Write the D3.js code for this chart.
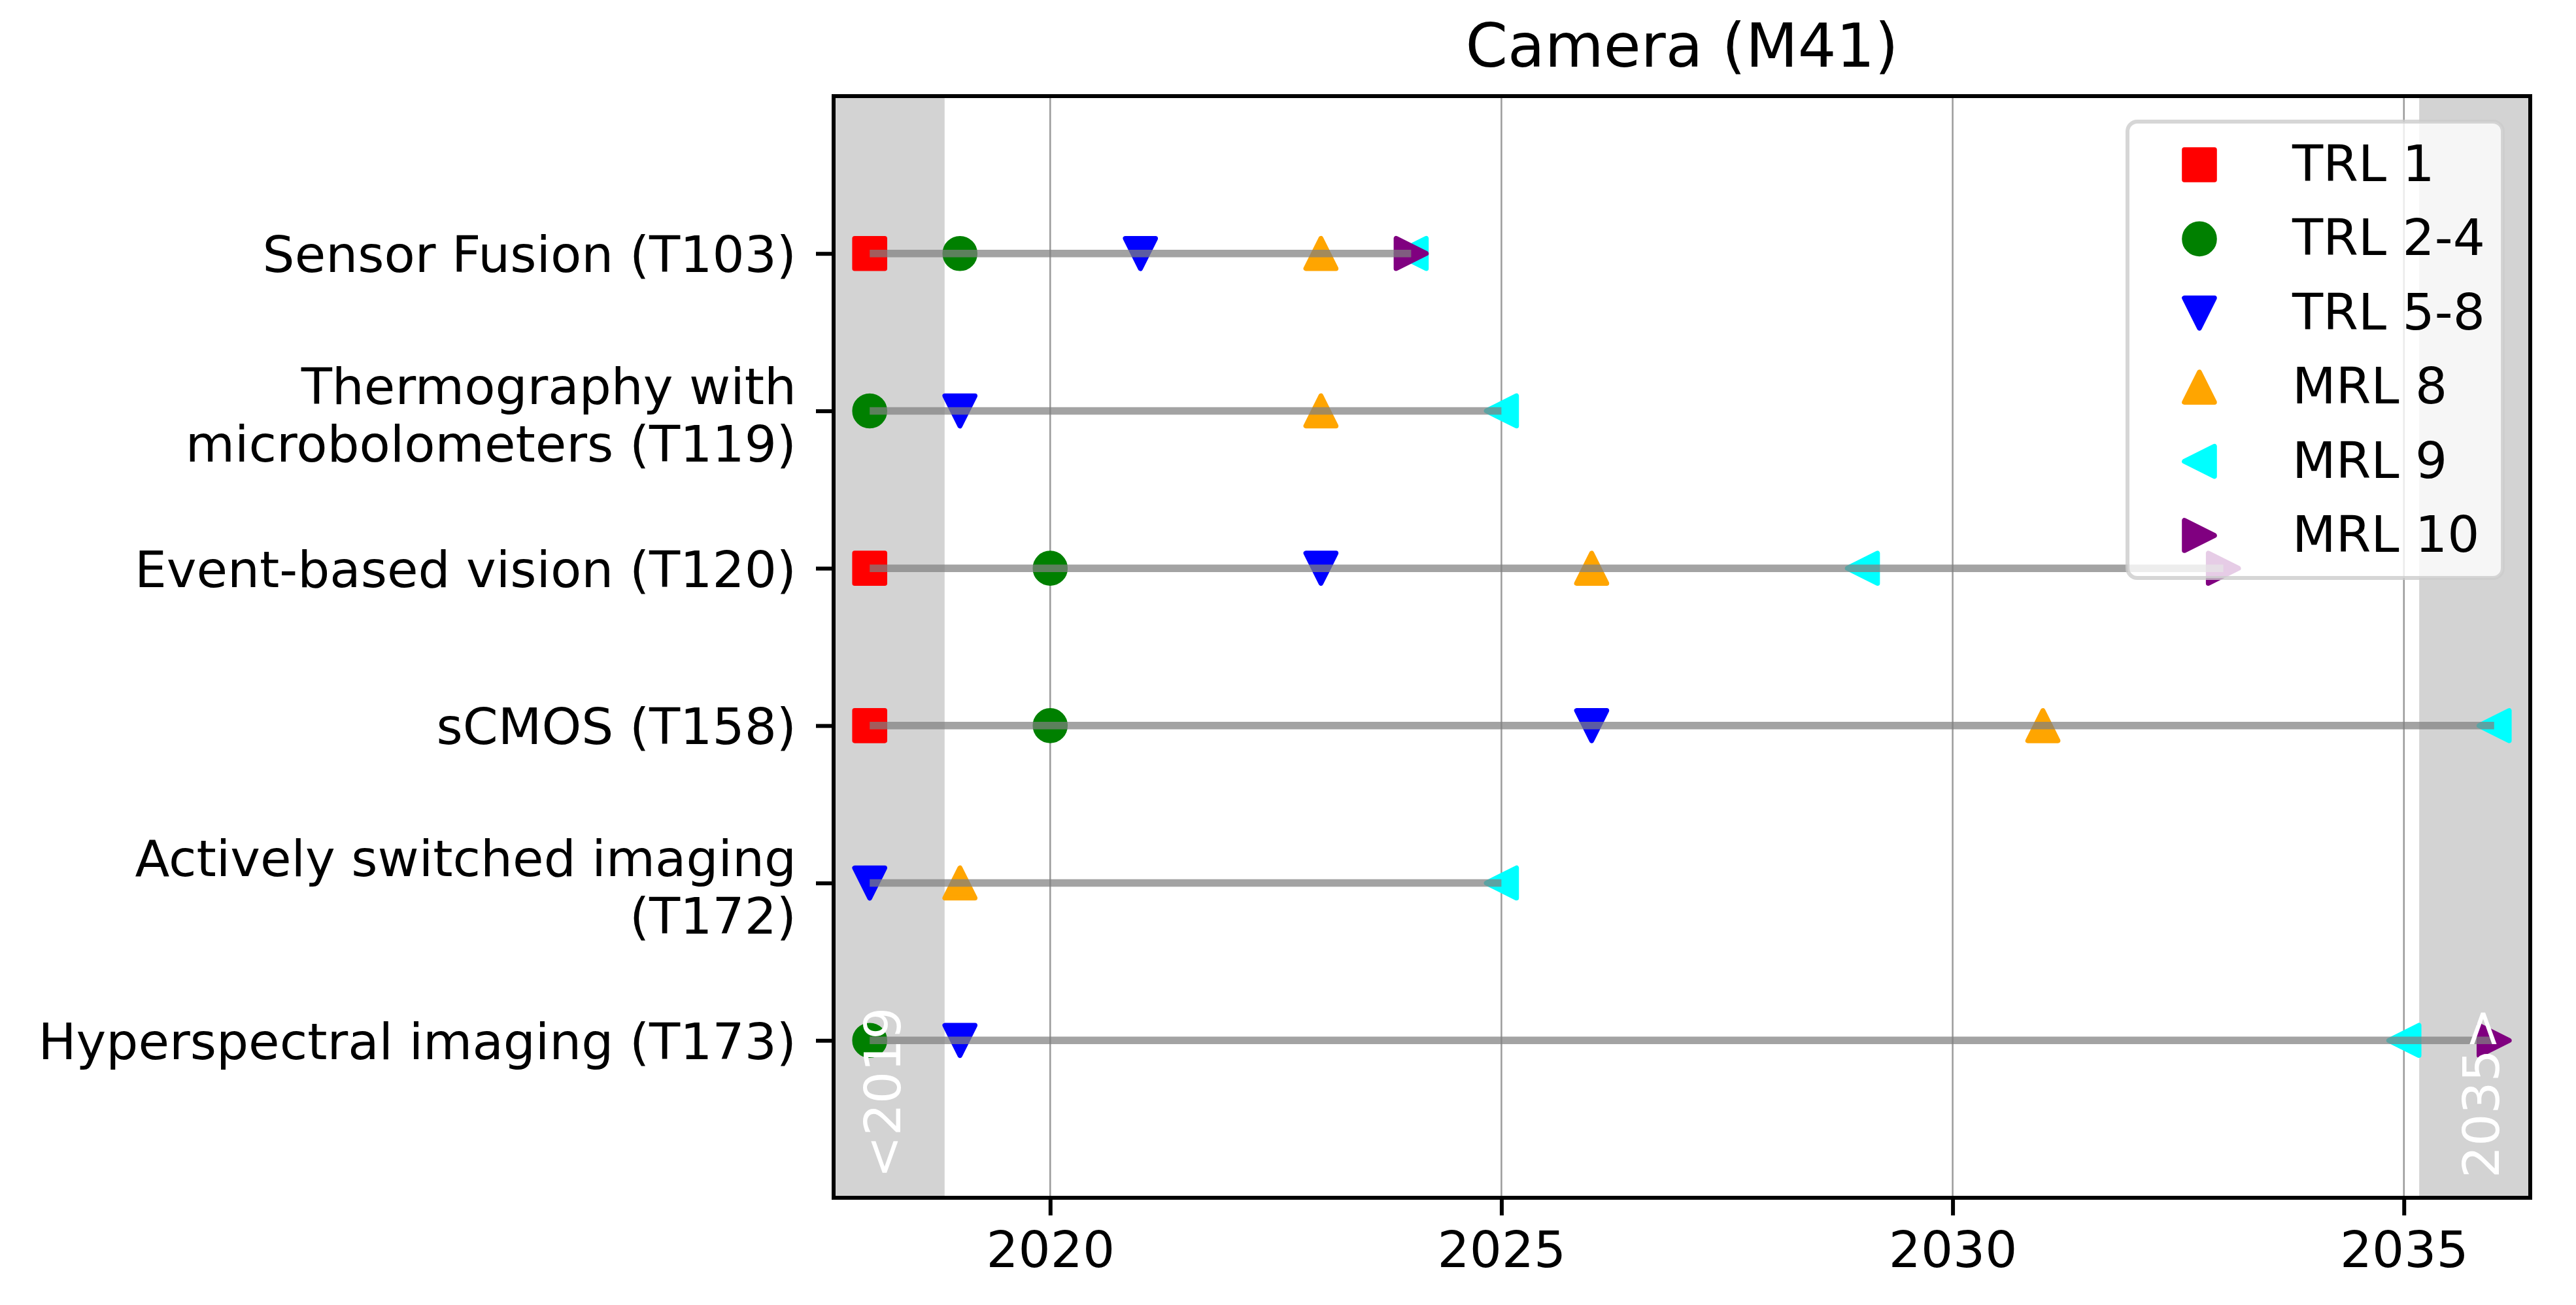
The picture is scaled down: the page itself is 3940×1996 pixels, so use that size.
<!DOCTYPE html>
<html>
<head>
<meta charset="utf-8">
<script src="https://cdn.jsdelivr.net/npm/d3@7"></script>
<style>
  body { margin: 0; background: #fff; }
  text { font-family: "DejaVu Sans", sans-serif; }
</style>
</head>
<body>
<div id="chart"></div>
<script>
// technologies (rows, top to bottom)
const technologies = [
    "Sensor Fusion (T103)",
    "Thermography with\nmicrobolometers (T119)",
    "Event-based vision (T120)",
    "sCMOS (T158)",
    "Actively switched imaging\n(T172)",
    "Hyperspectral imaging (T173)"
];

// readiness levels
const levels = ["TRL 1", "TRL 2-4", "TRL 5-8", "MRL 8", "MRL 9", "MRL 10"];
const levelColors = ["red", "green", "blue", "orange", "cyan", "purple"];
const levelShapes = ["square", "circle", "down", "up", "left", "right"];

// year reached per technology (null = not given), 2018 = <2019, 2036 = 2035>
const trl1  = [2018, null, 2018, 2018, null, null];
const trl24 = [2019, 2018, 2020, 2020, null, 2018];
const trl58 = [2021, 2019, 2023, 2026, 2018, 2019];
const mrl8  = [2023, 2023, 2026, 2031, 2019, null];
const mrl9  = [2024, 2025, 2029, 2036, 2025, 2035];
const mrl10 = [2024, null, 2033, null, null, 2036];

const xTicks = [2020, 2025, 2030, 2035];
const xDomain = [2017.6, 2036.4];
const yDomain = [-1, 6];
const bands = [[2017.6, 2018.83], [2035.17, 2036.4]];
const bandLabels = [{ text: "<2019", x: 2018.34 }, { text: "2035>", x: 2036.05 }];

function init() {
    const w = 3940, h = 1996;
    const left = 1275, right = 3870, top = 147, bottom = 1832;
    const ms = 46, mew = 7.6;
    const fs = 77.3;

    const series = [trl1, trl24, trl58, mrl8, mrl9, mrl10];

    const svg = d3.select("#chart")
        .append("svg")
        .attr("width", w)
        .attr("height", h)
        .style("background", "#fff");

    const xScale = d3.scaleLinear().domain(xDomain).range([left, right]);
    const yScale = d3.scaleLinear().domain(yDomain).range([top, bottom]);

    // shaded "out of range" bands
    svg.selectAll("rect.band")
        .data(bands)
        .enter()
        .append("rect")
        .attr("class", "band")
        .attr("x", d => xScale(d[0]))
        .attr("y", top)
        .attr("width", d => xScale(d[1]) - xScale(d[0]))
        .attr("height", bottom - top)
        .attr("fill", "#d3d3d3");

    // vertical grid
    svg.selectAll("line.grid")
        .data(xTicks)
        .enter()
        .append("line")
        .attr("class", "grid")
        .attr("x1", d => xScale(d))
        .attr("x2", d => xScale(d))
        .attr("y1", top)
        .attr("y2", bottom)
        .attr("stroke", "#9a9a9a")
        .attr("stroke-width", 2.5);

    function markerPath(shape) {
        const r = ms / 2;
        switch (shape) {
            case "square": return `M${-r},${-r}H${r}V${r}H${-r}Z`;
            case "circle": return `M${r},0A${r},${r} 0 1,1 ${-r},0A${r},${r} 0 1,1 ${r},0Z`;
            case "down": return `M0,${r}L${-r},${-r}L${r},${-r}Z`;
            case "up": return `M0,${-r}L${-r},${r}L${r},${r}Z`;
            case "left": return `M${-r},0L${r},${-r}L${r},${r}Z`;
            case "right": return `M${r},0L${-r},${-r}L${-r},${r}Z`;
        }
    }

    // markers, one level at a time
    series.forEach((vals, li) => {
        const pts = vals.map((v, i) => ({ year: v, row: i })).filter(d => d.year !== null);
        svg.append("g")
            .selectAll("path")
            .data(pts)
            .enter()
            .append("path")
            .attr("d", markerPath(levelShapes[li]))
            .attr("transform", d => `translate(${xScale(d.year)},${yScale(d.row)})`)
            .attr("fill", levelColors[li])
            .attr("stroke", levelColors[li])
            .attr("stroke-width", mew)
            .attr("stroke-linejoin", "round");
    });

    // span line for every technology
    const spans = technologies.map((t, i) => {
        const ys = series.map(s => s[i]).filter(v => v !== null);
        return { row: i, start: d3.min(ys), end: d3.max(ys) };
    });
    svg.selectAll("line.span")
        .data(spans)
        .enter()
        .append("line")
        .attr("class", "span")
        .attr("x1", d => xScale(d.start))
        .attr("x2", d => xScale(d.end))
        .attr("y1", d => yScale(d.row))
        .attr("y2", d => yScale(d.row))
        .attr("stroke", "gray")
        .attr("stroke-opacity", 0.72)
        .attr("stroke-width", 11.5);

    // band labels
    svg.selectAll("text.bandLabel")
        .data(bandLabels)
        .enter()
        .append("text")
        .attr("class", "bandLabel")
        .attr("transform", d => `translate(${xScale(d.x)},${bottom - 30}) rotate(-90)`)
        .attr("fill", "white")
        .attr("font-size", fs)
        .text(d => d.text);

    // axes
    const xAxis = d3.axisBottom(xScale)
        .tickValues(xTicks)
        .tickFormat(d3.format("d"))
        .tickSize(27)
        .tickPadding(24)
        .tickSizeOuter(0);
    const gx = svg.append("g")
        .attr("transform", `translate(0,${bottom})`)
        .call(xAxis);
    gx.select(".domain").remove();
    gx.selectAll(".tick line").attr("stroke", "#000").attr("stroke-width", 6);
    gx.selectAll(".tick text")
        .attr("font-size", fs)
        .attr("font-family", "DejaVu Sans")
        .attr("fill", "#000");

    const yAxis = d3.axisLeft(yScale)
        .tickValues(d3.range(technologies.length))
        .tickFormat(i => technologies[i])
        .tickSize(27)
        .tickPadding(30)
        .tickSizeOuter(0);
    const gy = svg.append("g")
        .attr("transform", `translate(${left},0)`)
        .call(yAxis);
    gy.select(".domain").remove();
    gy.selectAll(".tick line").attr("stroke", "#000").attr("stroke-width", 6);
    gy.selectAll(".tick text").each(function(i) {
        const lines = technologies[i].split("\n");
        const t = d3.select(this)
            .attr("font-size", fs)
            .attr("font-family", "DejaVu Sans")
            .attr("fill", "#000")
            .attr("dy", null)
            .text(null);
        lines.forEach((ln, k) => {
            t.append("tspan")
                .attr("x", -57)
                .attr("y", 28 - (lines.length - 1) * 39 + k * 88)
                .text(ln);
        });
    });

    // frame
    svg.append("rect")
        .attr("x", left)
        .attr("y", top)
        .attr("width", right - left)
        .attr("height", bottom - top)
        .attr("fill", "none")
        .attr("stroke", "#000")
        .attr("stroke-width", 6);

    // title
    svg.append("text")
        .attr("x", (left + right) / 2)
        .attr("y", 102)
        .attr("text-anchor", "middle")
        .attr("font-size", 92.5)
        .text("Camera (M41)");

    // legend
    const lg = svg.append("g");
    lg.append("rect")
        .attr("x", 3254)
        .attr("y", 186)
        .attr("width", 574)
        .attr("height", 698)
        .attr("rx", 15)
        .attr("fill", "white")
        .attr("fill-opacity", 0.8)
        .attr("stroke", "#cccccc")
        .attr("stroke-opacity", 0.8)
        .attr("stroke-width", 6);
    const items = lg.selectAll("g.item")
        .data(levels)
        .enter()
        .append("g")
        .attr("class", "item")
        .attr("transform", (d, i) => `translate(3364,${252 + i * 113.4})`);
    items.append("path")
        .attr("d", (d, i) => markerPath(levelShapes[i]))
        .attr("fill", (d, i) => levelColors[i])
        .attr("stroke", (d, i) => levelColors[i])
        .attr("stroke-width", mew)
        .attr("stroke-linejoin", "round");
    items.append("text")
        .attr("x", 142)
        .attr("y", 25)
        .attr("font-size", fs)
        .text(d => d);
}

window.onload = init;
</script>
</body>
</html>
